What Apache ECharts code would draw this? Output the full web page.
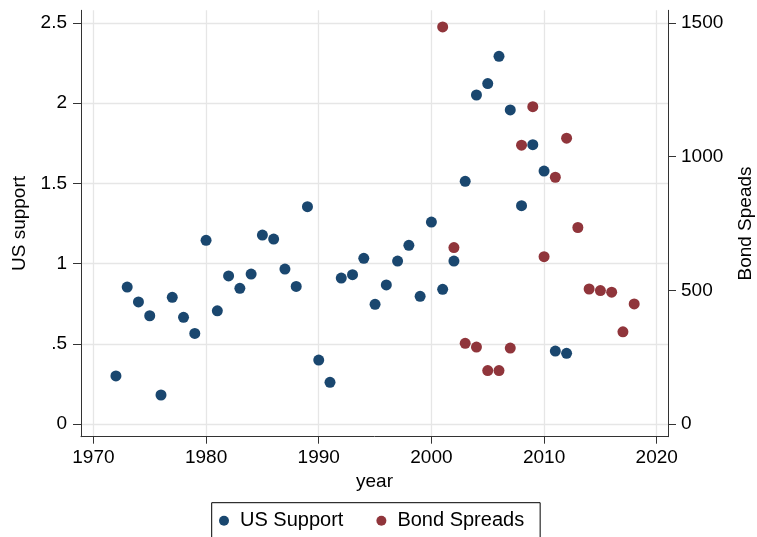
<!DOCTYPE html>
<html><head><meta charset="utf-8">
<script src="https://cdn.jsdelivr.net/npm/echarts@6/dist/echarts.min.js"></script>
<style>html,body{margin:0;padding:0;background:#fff}#c{width:757px;height:537px}</style>
</head><body><div id="c"></div>
<script>
const supportYears = [1972,1973,1974,1975,1976,1977,1978,1979,1980,1981,1982,1983,1984,1985,1986,1987,1988,1989,1990,1991,1992,1993,1994,1995,1996,1997,1998,1999,2000,2001,2002,2003,2004,2005,2006,2007,2008,2009,2010,2011,2012];
const supportValues = [0.30,0.854,0.761,0.675,0.181,0.79,0.665,0.565,1.145,0.706,0.923,0.846,0.935,1.178,1.153,0.966,0.858,1.355,0.399,0.26,0.910,0.931,1.033,0.746,0.867,1.016,1.114,0.796,1.259,0.840,1.016,1.513,2.051,2.122,2.292,1.958,1.361,1.741,1.577,0.455,0.441];
const spreadYears = [2001,2002,2003,2004,2005,2006,2007,2008,2009,2010,2011,2012,2013,2014,2015,2016,2017,2018];
const spreadValues = [1485,660,302,288,200,200,284,1043,1187,626,923,1069,735,505,499,493,345,449];
const xTicks = [1970,1980,1990,2000,2010,2020];
const leftTicks = [0,0.5,1,1.5,2,2.5];
const rightTicks = [0,500,1000,1500];

const FONT = 'Liberation Sans, Arial, Helvetica, sans-serif';
const FS = 19;
const axisCol = '#333';
const chart = echarts.init(document.getElementById('c'), null, {renderer:'canvas'});
chart.setOption({
  animation:false,
  backgroundColor:'#fff',
  textStyle:{fontFamily:FONT},
  grid:{left:81, right:89, top:10.3, bottom:100.3, containLabel:false, outerBoundsMode:'none'},
  legend:{
    left:211.7, top:502.7,
    padding:[8,16,20,7.3],
    borderColor:'#000', borderWidth:1, borderRadius:0,
    itemWidth:22, itemHeight:10, itemGap:33,
    icon:'circle',
    textStyle:{fontSize:20, color:'#000', fontFamily:FONT},
    data:['US Support','Bond Spreads']
  },
  xAxis:{
    type:'value', min:1968.9, max:2021.0,
    name:'year', nameLocation:'middle', nameGap:33,
    nameTextStyle:{fontSize:FS, color:'#000'},
    axisLine:{show:true, onZero:false, lineStyle:{color:axisCol, width:1}},
    axisTick:{show:true, length:7, lineStyle:{color:axisCol}, customValues:xTicks},
    axisLabel:{fontSize:FS, color:'#000', margin:12, customValues:xTicks, formatter:v=>String(v)},
    splitLine:{show:true, lineStyle:{color:'#e6e6e6', width:1.3}}
  },
  yAxis:[{
    type:'value', min:-0.079, max:2.579, position:'left',
    name:'US support', nameLocation:'middle', nameRotate:90, nameGap:48,
    nameTextStyle:{fontSize:FS, color:'#000'},
    axisLine:{show:true, onZero:false, lineStyle:{color:axisCol, width:1}},
    axisTick:{show:true, length:8, lineStyle:{color:axisCol}, customValues:leftTicks},
    axisLabel:{fontSize:FS, color:'#000', margin:14, customValues:leftTicks,
      formatter:v=>{let s=String(+v.toFixed(2)); return s.replace(/^0\./,'.');}},
    splitLine:{show:true, lineStyle:{color:'#e6e6e6', width:1.3}}
  },{
    type:'value', min:-47.4, max:1547.4, position:'right',
    name:'Bond Speads', nameLocation:'middle', nameRotate:90, nameGap:68,
    nameTextStyle:{fontSize:FS, color:'#000'},
    axisLine:{show:true, onZero:false, lineStyle:{color:axisCol, width:1}},
    axisTick:{show:true, length:8, lineStyle:{color:axisCol}, customValues:rightTicks},
    axisLabel:{fontSize:FS, color:'#000', margin:13, customValues:rightTicks, formatter:v=>String(v)},
    splitLine:{show:false}
  }],
  series:[{
    name:'US Support', type:'scatter', yAxisIndex:0, symbolSize:11,
    itemStyle:{color:'#1a476f', opacity:1},
    data:supportYears.map((y,i)=>[y,supportValues[i]])
  },{
    name:'Bond Spreads', type:'scatter', yAxisIndex:1, symbolSize:11,
    itemStyle:{color:'#90353b', opacity:1},
    data:spreadYears.map((y,i)=>[y,spreadValues[i]])
  }]
});
</script></body></html>
